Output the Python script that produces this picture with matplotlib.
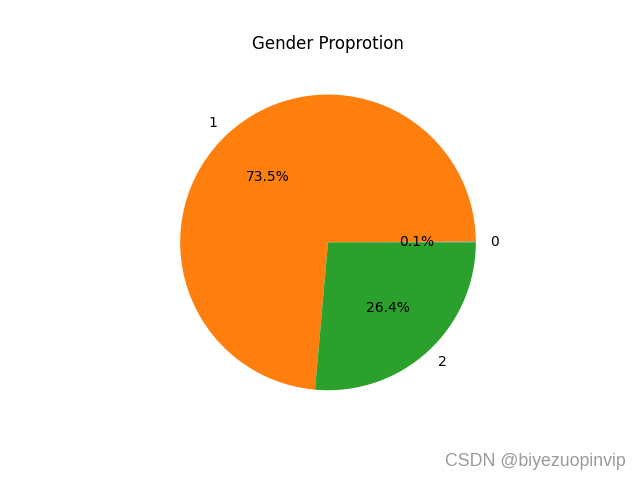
import matplotlib
matplotlib.use("Agg")
import matplotlib.pyplot as plt

labels = ["0", "1", "2"]
values = [0.1, 73.5, 26.4]

fig = plt.figure(figsize=(6.4, 4.8), dpi=100)
ax = fig.add_subplot(111)
ax.pie(values, labels=labels, autopct="%1.1f%%")
ax.set_title("Gender Proprotion")
fig.text(0.977, 0.039, "CSDN @biyezuopinvip", ha="right", va="center",
         fontsize=12.8, color="#9a9a9a", family="Liberation Sans")
fig.savefig("out.png", dpi=100)
